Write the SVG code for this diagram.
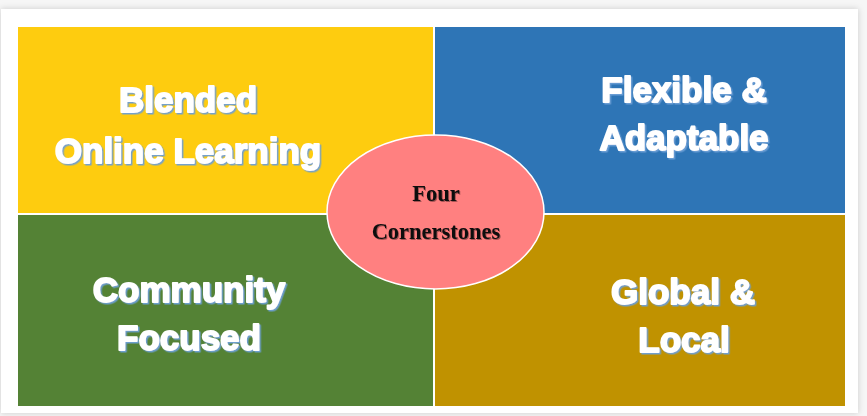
<svg xmlns="http://www.w3.org/2000/svg" width="867" height="416" viewBox="0 0 867 416">
<defs>
<filter id="cardShadow" x="-5%" y="-5%" width="110%" height="110%">
<feDropShadow dx="0" dy="0" stdDeviation="3" flood-color="#000" flood-opacity="0.18"/>
</filter>
<filter id="txtShadow" x="-10%" y="-20%" width="120%" height="140%">
<feDropShadow dx="1.5" dy="1.5" stdDeviation="0.5" flood-color="#6d9fd6" flood-opacity="0.95"/>
</filter>
<filter id="serifShadow" x="-10%" y="-20%" width="120%" height="140%">
<feDropShadow dx="1" dy="1" stdDeviation="0.6" flood-color="#000" flood-opacity="0.35"/>
</filter>
</defs>
<style>
.quad{stroke:none}
.lbl{font-family:"Liberation Sans",Arial,sans-serif;font-weight:bold;font-size:35px;fill:#ffffff;stroke:#ffffff;stroke-width:1.8px;stroke-linejoin:round;paint-order:stroke;text-anchor:middle;filter:url(#txtShadow)}
.ctr{font-family:"Liberation Serif","Times New Roman",serif;font-weight:bold;font-size:22.5px;fill:#111111;text-anchor:middle;filter:url(#serifShadow)}
</style>
<rect x="0" y="0" width="867" height="416" fill="#f6f6f6"/>
<rect x="1" y="9" width="857" height="404" fill="#ffffff" filter="url(#cardShadow)"/>
<g id="connectors"></g>
<g id="node-blended">
<rect class="quad" x="18" y="27" width="415" height="186" fill="#FECC0F"/>
<text class="lbl" x="188" y="112">Blended</text>
<text class="lbl" x="188" y="163">Online Learning</text>
</g>
<g id="node-flexible">
<rect class="quad" x="435" y="27" width="410" height="186" fill="#2E75B6"/>
<text class="lbl" x="684" y="102">Flexible &amp;</text>
<text class="lbl" x="684" y="150">Adaptable</text>
</g>
<g id="node-community">
<rect class="quad" x="18" y="215" width="415" height="191" fill="#548235"/>
<text class="lbl" x="189" y="302">Community</text>
<text class="lbl" x="189" y="350">Focused</text>
</g>
<g id="node-global">
<rect class="quad" x="435" y="215" width="410" height="191" fill="#C09200"/>
<text class="lbl" x="683" y="304">Global &amp;</text>
<text class="lbl" x="684" y="352">Local</text>
</g>
<g id="node-center">
<ellipse cx="435.5" cy="212" rx="108.5" ry="77" fill="#FF8080" stroke="#ffffff" stroke-width="1.5"/>
<text class="ctr" x="436" y="201">Four</text>
<text class="ctr" x="436" y="239">Cornerstones</text>
</g>
</svg>
